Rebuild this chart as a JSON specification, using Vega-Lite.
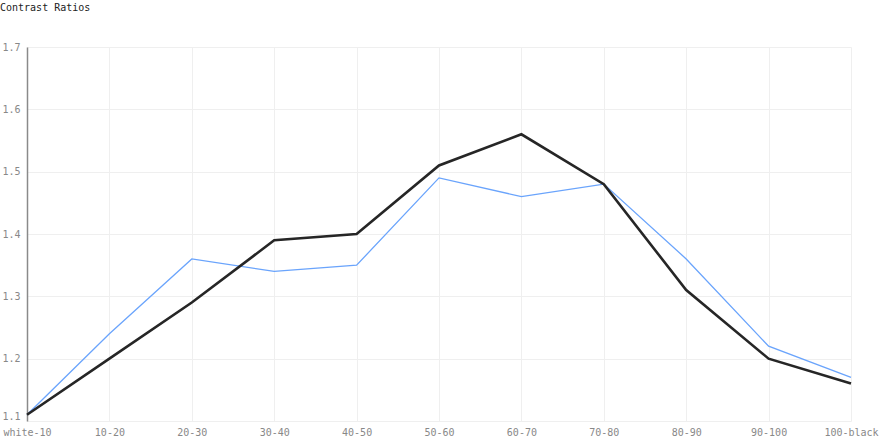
{
  "$schema": "https://vega.github.io/schema/vega-lite/v6.json",
  "width": 824,
  "height": 374,
  "autosize": {"type": "none"},
  "padding": {"left": 27, "top": 47, "right": 29, "bottom": 16},
  "background": "white",
  "title": {
    "text": "Contrast Ratios",
    "anchor": "start",
    "frame": "group",
    "dx": -27,
    "offset": 29,
    "font": "DejaVu Sans Mono",
    "fontSize": 10,
    "fontWeight": "normal",
    "color": "#222222"
  },
  "config": {
    "view": {"stroke": null},
    "axis": {
      "labelFont": "DejaVu Sans Mono",
      "labelFontSize": 10,
      "labelColor": "#888888",
      "gridColor": "#efefef",
      "gridWidth": 1,
      "ticks": false,
      "title": null
    }
  },
  "data": {
    "values": [
      {"step": "white-10", "series": "A", "ratio": 1.11},
      {"step": "10-20", "series": "A", "ratio": 1.24},
      {"step": "20-30", "series": "A", "ratio": 1.36},
      {"step": "30-40", "series": "A", "ratio": 1.34},
      {"step": "40-50", "series": "A", "ratio": 1.35},
      {"step": "50-60", "series": "A", "ratio": 1.49},
      {"step": "60-70", "series": "A", "ratio": 1.46},
      {"step": "70-80", "series": "A", "ratio": 1.48},
      {"step": "80-90", "series": "A", "ratio": 1.36},
      {"step": "90-100", "series": "A", "ratio": 1.22},
      {"step": "100-black", "series": "A", "ratio": 1.17},
      {"step": "white-10", "series": "B", "ratio": 1.11},
      {"step": "10-20", "series": "B", "ratio": 1.2},
      {"step": "20-30", "series": "B", "ratio": 1.29},
      {"step": "30-40", "series": "B", "ratio": 1.39},
      {"step": "40-50", "series": "B", "ratio": 1.4},
      {"step": "50-60", "series": "B", "ratio": 1.51},
      {"step": "60-70", "series": "B", "ratio": 1.56},
      {"step": "70-80", "series": "B", "ratio": 1.48},
      {"step": "80-90", "series": "B", "ratio": 1.31},
      {"step": "90-100", "series": "B", "ratio": 1.2},
      {"step": "100-black", "series": "B", "ratio": 1.16}
    ]
  },
  "mark": {"type": "line", "strokeJoin": "miter", "clip": false},
  "encoding": {
    "x": {
      "field": "step",
      "type": "ordinal",
      "sort": null,
      "scale": {"type": "point", "padding": 0},
      "axis": {
        "labelAngle": 0,
        "domain": false,
        "grid": true,
        "labelPadding": 6
      }
    },
    "y": {
      "field": "ratio",
      "type": "quantitative",
      "scale": {"domain": [1.1, 1.7], "zero": false, "nice": false},
      "axis": {
        "values": [1.1, 1.2, 1.3, 1.4, 1.5, 1.6, 1.7],
        "format": ".1f",
        "grid": true,
        "domain": true,
        "domainColor": "#8a8a8a",
        "domainWidth": 1.5,
        "labelPadding": 7,
        "labelBaseline": {"condition": {"test": "datum.value <= 1.1", "value": "bottom"}, "value": "middle"}
      }
    },
    "color": {
      "field": "series",
      "type": "nominal",
      "scale": {"domain": ["A", "B"], "range": ["#6aa4fc", "#262626"]},
      "legend": null
    },
    "strokeWidth": {
      "field": "series",
      "type": "nominal",
      "scale": {"domain": ["A", "B"], "range": [1.3, 2.6]},
      "legend": null
    }
  }
}
